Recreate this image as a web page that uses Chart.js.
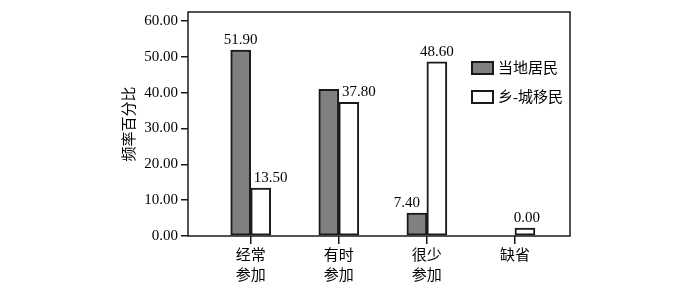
<!DOCTYPE html>
<html>
<head>
<meta charset="utf-8">
<script src="https://cdn.jsdelivr.net/npm/chart.js@4/dist/chart.umd.min.js"></script>
<style>
  html, body { margin: 0; padding: 0; background: #fff; }
  #box { width: 700px; height: 286px; }
</style>
</head>
<body>
<div id="box"><canvas id="bieudo"></canvas></div>
<script>
// dữ liệu
const categories = [["经常", "参加"], ["有时", "参加"], ["很少", "参加"], "缺省"];
const seriesNames = ["当地居民", "乡-城移民"];
const localVals = [51.9, 40.9, 6.4, null];
const migrantVals = [13.4, 37.3, 48.6, 2.2];
const localLabels = ["51.90", "", "7.40", ""];
const migrantLabels = ["13.50", "37.80", "48.60", "0.00"];
const yTicks = [0, 10, 20, 30, 40, 50, 60];

const FONT = "'Liberation Serif', 'Noto Sans CJK SC', serif";
const INK = "#1a1a1a";

// khung quanh vùng vẽ
const framePlugin = {
  id: "frame",
  afterDatasetsDraw(chart) {
    const { ctx, chartArea: a } = chart;
    ctx.save();
    ctx.strokeStyle = INK;
    ctx.lineWidth = 1.5;
    ctx.strokeRect(a.left, a.top, a.right - a.left, a.bottom - a.top);
    ctx.restore();
  },
};

// nhãn số trên cột
const barLabelPlugin = {
  id: "barLabels",
  afterDatasetsDraw(chart, args, opts) {
    const ctx = chart.ctx;
    ctx.save();
    ctx.font = "15px " + FONT;
    ctx.fillStyle = "#000";
    ctx.textAlign = "center";
    ctx.textBaseline = "alphabetic";
    chart.data.datasets.forEach((ds, di) => {
      const meta = chart.getDatasetMeta(di);
      meta.data.forEach((bar, i) => {
        const txt = ds.valueLabels[i];
        if (!txt) return;
        const dx = opts.shift[di][i] || 0;
        ctx.fillText(txt, bar.x + dx, bar.y - 6);
      });
    });
    ctx.restore();
  },
};

// chú thích bên trong khung
const legendPlugin = {
  id: "innerLegend",
  afterDraw(chart, args, opts) {
    const ctx = chart.ctx;
    ctx.save();
    ctx.font = "15px " + FONT;
    ctx.textBaseline = "middle";
    ctx.textAlign = "left";
    chart.data.datasets.forEach((ds, i) => {
      const y = opts.y + i * opts.gap;
      ctx.fillStyle = ds.backgroundColor;
      ctx.fillRect(opts.x, y - 6, 21, 12);
      ctx.strokeStyle = INK;
      ctx.lineWidth = 2;
      ctx.strokeRect(opts.x, y - 6, 21, 12);
      ctx.fillStyle = "#000";
      ctx.fillText(ds.label, opts.x + 26, y + 1);
    });
    ctx.restore();
  },
};

new Chart(document.getElementById("bieudo"), {
  type: "bar",
  data: {
    datasets: [
      {
        label: seriesNames[0],
        data: localVals.map((v, i) => ({ x: i, y: v })),
        valueLabels: localLabels,
        backgroundColor: "#808080",
        borderColor: INK,
        borderWidth: 2,
        borderSkipped: false,
      },
      {
        label: seriesNames[1],
        data: migrantVals.map((v, i) => ({ x: i, y: v })),
        valueLabels: migrantLabels,
        backgroundColor: "#ffffff",
        borderColor: INK,
        borderWidth: 2,
        borderSkipped: false,
      },
    ],
  },
  options: {
    responsive: true,
    maintainAspectRatio: false,
    animation: false,
    barThickness: 20,
    layout: { padding: { left: 0, top: 4, right: 130, bottom: 0 } },
    scales: {
      x: {
        type: "linear",
        offset: false,
        min: -0.712,
        max: 3.625,
        afterBuildTicks: (s) => {
          s.ticks = categories.map((c, i) => ({ value: i }));
        },
        afterFit: (s) => {
          s.height = 50;
        },
        ticks: {
          callback: (v) => categories[v],
          font: { family: FONT, size: 15, lineHeight: 1.27 },
          color: "#000",
          padding: 3,
          maxRotation: 0,
          autoSkip: false,
        },
        grid: { offset: false, drawOnChartArea: false, tickLength: 8, color: INK, lineWidth: 1.5 },
        border: { display: false },
      },
      y: {
        min: 0,
        max: 62.5,
        afterBuildTicks: (s) => {
          s.ticks = yTicks.map((v) => ({ value: v }));
        },
        afterFit: (s) => {
          s.width = 188;
        },
        ticks: {
          callback: (v) => v.toFixed(2),
          font: { family: FONT, size: 15 },
          color: "#000",
          padding: 3,
        },
        grid: { drawOnChartArea: false, tickLength: 7, color: INK, lineWidth: 1.5 },
        border: { display: false },
        title: {
          display: true,
          text: "频率百分比",
          font: { family: FONT, size: 15 },
          color: "#000",
          padding: { top: 121, bottom: 0 },
        },
      },
    },
    plugins: {
      legend: { display: false },
      tooltip: { enabled: false },
      barLabels: {
        shift: [
          [0, 0, -10, 0],
          [10, 10, 0, 2],
        ],
      },
      innerLegend: { x: 472, y: 68, gap: 29 },
    },
  },
  plugins: [framePlugin, barLabelPlugin, legendPlugin],
});
</script>
</body>
</html>
